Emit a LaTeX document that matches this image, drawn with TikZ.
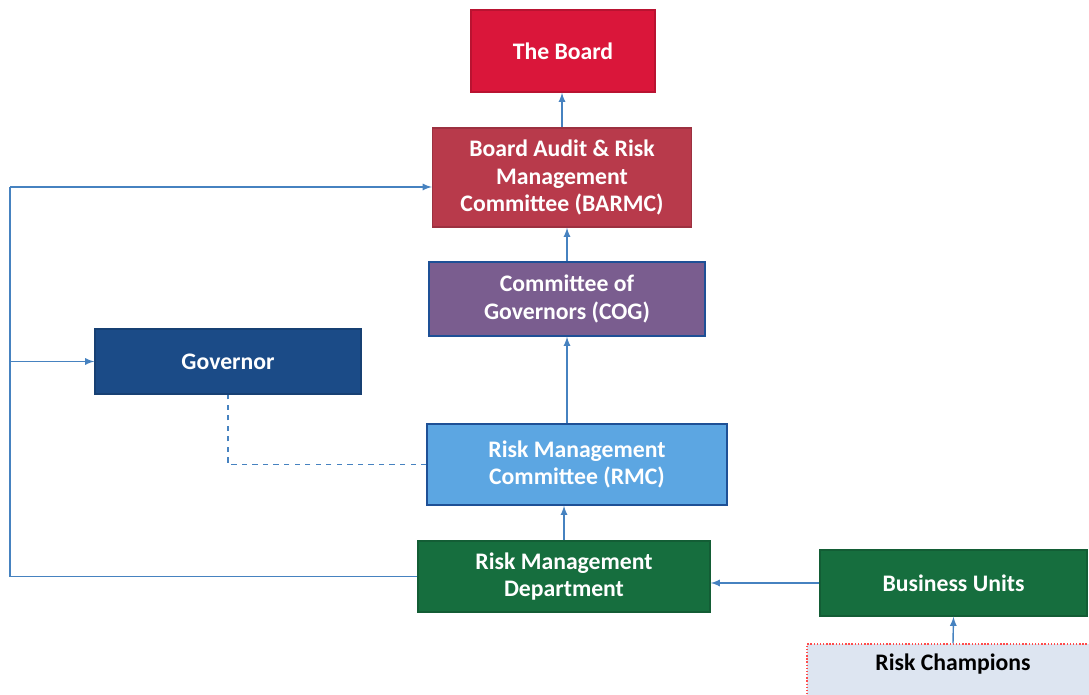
\documentclass[tikz,border=0pt]{standalone}
\usepackage{fontspec}
\setmainfont{Carlito}
\usepackage{tikz}
\usetikzlibrary{calc}
\usetikzlibrary{positioning}
\usetikzlibrary{arrows}

\definecolor{boardred}{RGB}{218,22,58}
\definecolor{auditred}{RGB}{184,58,75}
\definecolor{cogpurple}{RGB}{122,93,143}
\definecolor{govblue}{RGB}{27,75,135}
\definecolor{rmcblue}{RGB}{92,166,226}
\definecolor{rmcedge}{RGB}{30,80,150}
\definecolor{deptgreen}{RGB}{22,110,62}
\definecolor{champfill}{RGB}{221,229,241}
\definecolor{linkblue}{RGB}{70,130,192}

\tikzset{
	unit/.style={rectangle, draw, thick, text=white, align=center, font=\fontsize{13.5}{15.6}\selectfont\bfseries},
	link/.style={thick, linkblue, -latex}
}

\begin{document}
\begin{tikzpicture}[x=0.02cm, y=-0.02cm]
				\useasboundingbox (0,0) rectangle (1089,695);
				
				\node[unit, fill=boardred, draw=boardred!85!black, minimum width=3.68cm, minimum height=1.64cm] (board) at (563,51) {The Board};
				\node[unit, fill=auditred, draw=auditred!85!black, minimum width=5.18cm, minimum height=1.98cm] (barmc) at (562,177.5) {Board Audit \& Risk\\Management\\Committee (BARMC)};
				\node[unit, fill=cogpurple, draw=rmcedge, minimum width=5.52cm, minimum height=1.48cm] (cog) at (567,299) {Committee of\\Governors (COG)};
				\node[unit, fill=govblue, draw=govblue!85!black, minimum width=5.32cm, minimum height=1.3cm] (gov) at (228,361.5) {Governor};
				\node[unit, fill=rmcblue, draw=rmcedge, minimum width=6.0cm, minimum height=1.62cm] (rmc) at (577,464.5) {Risk Management\\Committee (RMC)};
				\node[unit, fill=deptgreen, draw=deptgreen!85!black, minimum width=5.84cm, minimum height=1.42cm] (rmd) at (564,576.5) {Risk Management\\Department};
				\node[unit, fill=deptgreen, draw=deptgreen!85!black, minimum width=5.34cm, minimum height=1.32cm] (bu) at (953.5,583) {Business Units};
				\node[unit, fill=champfill, draw=red!70, densely dotted, text=black, minimum width=5.84cm, inner ysep=0pt, text height=0.52cm, text depth=0.8cm, anchor=base] (rc) at (953,670) {Risk Champions};
				
				\coordinate (loop) at (10,187);
				
				\draw[link] (barmc.north) -- (barmc.north |- board.south);
				\draw[link] (cog.north) -- (cog.north |- barmc.south);
				\draw[link] (cog.south |- rmc.north) -- (cog.south);
				\draw[link] (rmd.north) -- (rmd.north |- rmc.south);
				\draw[link] (bu.west) -- (bu.west -| rmd.east);
				\draw[link] (rc.north) -- (bu.south);
				\draw[link, -] (rmd.west) -| (loop);
				\draw[link] (loop) -- (loop -| barmc.west);
				\draw[link] (loop |- gov.west) -- (gov.west);
				\draw[thick, linkblue, dashed] (rmc.west) -| (gov.south);
			\end{tikzpicture}
\end{document}
